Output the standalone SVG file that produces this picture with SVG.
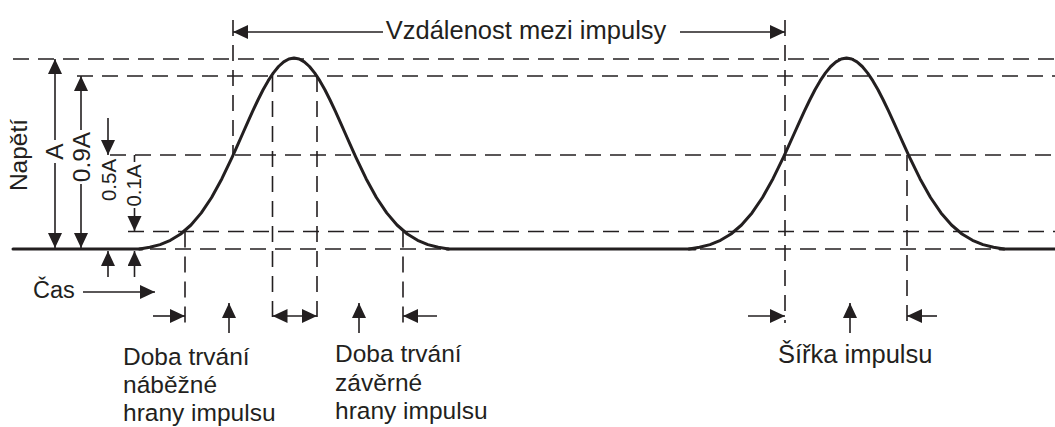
<svg xmlns="http://www.w3.org/2000/svg" width="1055" height="427" viewBox="0 0 1055 427">
<style>
.dash{stroke:#231f20;stroke-width:1.6;stroke-dasharray:16 9;fill:none}
.sig{stroke:#231f20;stroke-width:3;fill:none;stroke-linecap:round;stroke-linejoin:round}
.arr{stroke:#231f20;stroke-width:1.6;fill:none;marker-end:url(#ah)}
.arr2{stroke:#231f20;stroke-width:1.6;fill:none;marker-end:url(#ah);marker-start:url(#ahs)}
.ln{stroke:#231f20;stroke-width:1.6;fill:none}
text{font-family:"Liberation Sans",Arial,sans-serif;fill:#231f20;font-size:24.5px}
.s20{font-size:20.5px}
.s25{font-size:25.5px}
</style>
<defs>
<marker id="ah" markerUnits="userSpaceOnUse" markerWidth="16" markerHeight="15" refX="15" refY="7" orient="auto"><path d="M0,0 L15,7 L0,14 z" fill="#231f20"/></marker>
<marker id="ahs" markerUnits="userSpaceOnUse" markerWidth="16" markerHeight="15" refX="15" refY="7" orient="auto-start-reverse"><path d="M0,0 L15,7 L0,14 z" fill="#231f20"/></marker>
<path id="pulse" d="M-150,249 L-140,247.3 L-130,244.6 L-120,240.3 L-110,234 L-100,225 L-90,212.9 L-80,197.5 L-70,178.7 L-60,157.1 L-55,145.7 L-50,134 L-45,122.3 L-40,110.9 L-35,100 L-30,89.8 L-25,80.7 L-20,72.9 L-15,66.5 L-10,61.9 L-5,59 L0,58 L5,59 L10,61.9 L15,66.5 L20,72.9 L25,80.7 L30,89.8 L35,100 L40,110.9 L45,122.3 L50,134 L55,145.7 L60,157.1 L70,178.7 L80,197.5 L90,212.9 L100,225 L110,234 L120,240.3 L130,244.6 L140,247.3 L150,249" vector-effect="non-scaling-stroke"/>
</defs>
<rect width="1055" height="427" fill="#ffffff"/>

<g id="guides">
<line class="dash" x1="13" y1="59" x2="1055" y2="59"/>
<line class="dash" x1="77" y1="76" x2="1055" y2="76"/>
<line class="dash" x1="110" y1="155" x2="1055" y2="155"/>
<line class="dash" x1="128" y1="231.5" x2="1055" y2="231.5"/>
<line class="dash" x1="150" y1="249" x2="1055" y2="249"/>
<line class="dash" x1="233" y1="20" x2="233" y2="155"/>
<line class="dash" x1="185" y1="231.5" x2="185" y2="323"/>
<line class="dash" x1="272.5" y1="76" x2="272.5" y2="323"/>
<line class="dash" x1="317" y1="76" x2="317" y2="323"/>
<line class="dash" x1="403" y1="231.5" x2="403" y2="323"/>
<line class="dash" x1="785" y1="20" x2="785" y2="323"/>
<line class="dash" x1="907" y1="155" x2="907" y2="323"/>
</g>

<g id="signal">
<line class="sig" x1="13" y1="249" x2="142" y2="249"/>
<line class="sig" x1="447" y1="249" x2="695" y2="249"/>
<line class="sig" x1="1000" y1="249" x2="1055" y2="249"/>
<use href="#pulse" class="sig" transform="translate(294,0) scale(1.03,1)"/>
<use href="#pulse" class="sig" transform="translate(846.5,0) scale(1.05,1)"/>
</g>

<g id="connectors">
<line class="arr" x1="383" y1="32" x2="233" y2="32"/>
<line class="arr" x1="680" y1="32" x2="785" y2="32"/>
<line class="arr" x1="55" y1="140" x2="55" y2="59"/>
<line class="arr" x1="55" y1="163" x2="55" y2="248"/>
<line class="arr" x1="81" y1="130" x2="81" y2="76"/>
<line class="arr" x1="81" y1="184" x2="81" y2="248"/>
<line class="arr" x1="108" y1="118" x2="108" y2="155"/>
<line class="ln" x1="134.5" y1="155" x2="134.5" y2="162"/>
<line class="arr" x1="134.5" y1="208" x2="134.5" y2="231"/>
<line class="arr" x1="108" y1="277" x2="108" y2="251"/>
<line class="arr" x1="134.5" y1="277" x2="134.5" y2="251"/>
<line class="arr" x1="83" y1="292" x2="155" y2="292"/>
<line class="arr" x1="153" y1="316" x2="185" y2="316"/>
<line class="arr" x1="229" y1="333" x2="229" y2="303"/>
<line class="arr2" x1="272.5" y1="316" x2="317" y2="316"/>
<line class="arr" x1="359" y1="333" x2="359" y2="303"/>
<line class="arr" x1="437" y1="316" x2="403" y2="316"/>
<line class="arr" x1="748" y1="316" x2="785" y2="316"/>
<line class="arr" x1="850" y1="333" x2="850" y2="303"/>
<line class="arr" x1="937" y1="316" x2="907" y2="316"/>
</g>

<g id="label-distance"><text class="s25" x="526" y="39" text-anchor="middle">Vzdálenost mezi impulsy</text></g>
<g id="label-voltage"><text transform="translate(27,155) rotate(-90)" text-anchor="middle">Napětí</text></g>
<g id="label-A"><text transform="translate(63,151.5) rotate(-90)" text-anchor="middle">A</text></g>
<g id="label-09A"><text transform="translate(89.5,157) rotate(-90)" text-anchor="middle">0.9A</text></g>
<g id="label-05A"><text class="s20" transform="translate(115.5,180) rotate(-90)" text-anchor="middle">0.5A</text></g>
<g id="label-01A"><text class="s20" transform="translate(141,185.5) rotate(-90)" text-anchor="middle">0.1A</text></g>
<g id="label-time"><text x="33" y="298" style="font-size:23.5px">Čas</text></g>
<g id="label-rise"><text x="123" y="365">Doba trvání</text><text x="123" y="393">náběžné</text><text x="123" y="421">hrany impulsu</text></g>
<g id="label-fall"><text x="335" y="362">Doba trvání</text><text x="335" y="391">závěrné</text><text x="335" y="419">hrany impulsu</text></g>
<g id="label-width"><text class="s25" x="778" y="363">Šířka impulsu</text></g>
</svg>
